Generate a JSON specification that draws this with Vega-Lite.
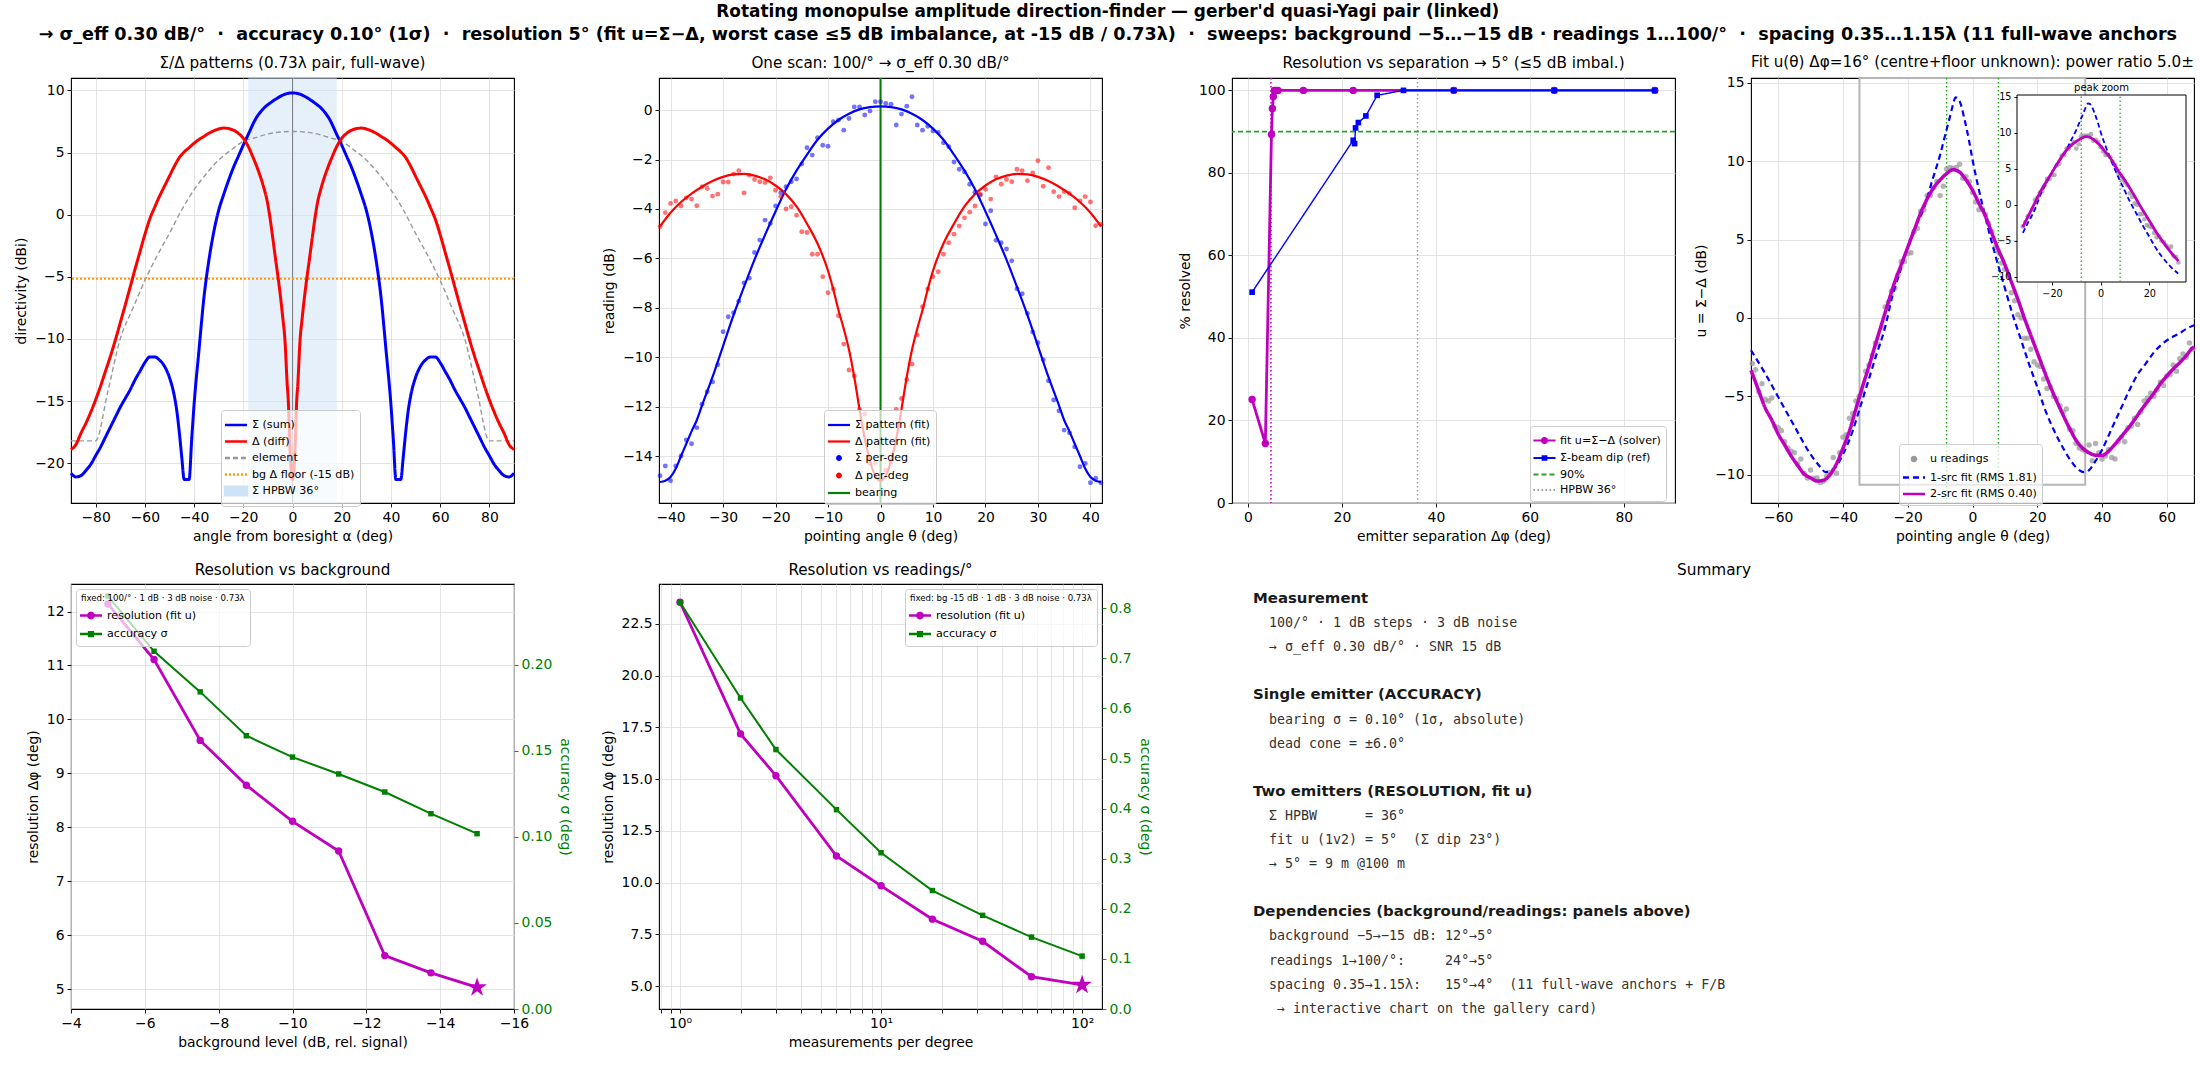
{
  "$schema": "https://vega.github.io/schema/vega-lite/v6.json",
  "background": "white",
  "padding": {"left": 14, "top": 3, "right": 0, "bottom": 0},
  "title": {
    "text": "Rotating monopulse amplitude direction-finder — gerber'd quasi-Yagi pair (linked)",
    "subtitle": "→ σ_eff 0.30 dB/°\u00a0 ·\u00a0 accuracy 0.10° (1σ)\u00a0 ·\u00a0 resolution 5° (fit u=Σ−Δ, worst case ≤5 dB imbalance, at -15 dB / 0.73λ)\u00a0 ·\u00a0 sweeps: background −5…−15 dB · readings 1…100/°\u00a0 ·\u00a0 spacing 0.35…1.15λ (11 full-wave anchors",
    "fontSize": 16.9,
    "fontWeight": "bold",
    "subtitleFontSize": 17.6,
    "subtitleFontWeight": "bold",
    "subtitleColor": "black",
    "subtitlePadding": 5,
    "anchor": "middle",
    "frame": "bounds",
    "offset": 9,
    "limit": 2192
  },
  "datasets": {
    "p1s": [
      {"x": -90, "y": -20.8}, {"x": -88, "y": -21.1}, {"x": -86, "y": -21.0}, {"x": -84, "y": -20.6}, {"x": -82, "y": -20.1},
      {"x": -80, "y": -19.4}, {"x": -78, "y": -18.7}, {"x": -76, "y": -17.9}, {"x": -74, "y": -17.1}, {"x": -72, "y": -16.3},
      {"x": -70, "y": -15.5}, {"x": -68, "y": -14.8}, {"x": -66, "y": -14.1}, {"x": -64, "y": -13.3}, {"x": -62, "y": -12.6},
      {"x": -60, "y": -11.9}, {"x": -58, "y": -11.45}, {"x": -56, "y": -11.45}, {"x": -54, "y": -11.7}, {"x": -52, "y": -12.2},
      {"x": -50, "y": -13.1}, {"x": -48, "y": -14.6}, {"x": -47, "y": -15.8}, {"x": -46, "y": -17.5}, {"x": -45, "y": -19.5},
      {"x": -44, "y": -21.3}, {"x": -42, "y": -21.3}, {"x": -41, "y": -18.2}, {"x": -40, "y": -15.3}, {"x": -38, "y": -10.9},
      {"x": -36, "y": -6.7}, {"x": -34, "y": -3.7}, {"x": -32, "y": -1.4}, {"x": -30, "y": 0.35}, {"x": -28, "y": 1.6},
      {"x": -26, "y": 2.75}, {"x": -24, "y": 3.8}, {"x": -22, "y": 4.7}, {"x": -20, "y": 5.6}, {"x": -18, "y": 6.45},
      {"x": -15, "y": 7.7}, {"x": -12, "y": 8.5}, {"x": -9, "y": 9.0}, {"x": -6, "y": 9.4}, {"x": -3, "y": 9.7},
      {"x": 0, "y": 9.8},
      {"x": 3, "y": 9.7}, {"x": 6, "y": 9.4}, {"x": 9, "y": 9.0}, {"x": 12, "y": 8.5}, {"x": 15, "y": 7.7},
      {"x": 18, "y": 6.45}, {"x": 20, "y": 5.6}, {"x": 22, "y": 4.7}, {"x": 24, "y": 3.8}, {"x": 26, "y": 2.75},
      {"x": 28, "y": 1.6}, {"x": 30, "y": 0.35}, {"x": 32, "y": -1.4}, {"x": 34, "y": -3.7}, {"x": 36, "y": -6.7},
      {"x": 38, "y": -10.9}, {"x": 40, "y": -15.3}, {"x": 41, "y": -18.2}, {"x": 42, "y": -21.3}, {"x": 44, "y": -21.3},
      {"x": 45, "y": -19.5}, {"x": 46, "y": -17.5}, {"x": 47, "y": -15.8}, {"x": 48, "y": -14.6}, {"x": 50, "y": -13.1},
      {"x": 52, "y": -12.2}, {"x": 54, "y": -11.7}, {"x": 56, "y": -11.45}, {"x": 58, "y": -11.45}, {"x": 60, "y": -11.9},
      {"x": 62, "y": -12.6}, {"x": 64, "y": -13.3}, {"x": 66, "y": -14.1}, {"x": 68, "y": -14.8}, {"x": 70, "y": -15.5},
      {"x": 72, "y": -16.3}, {"x": 74, "y": -17.1}, {"x": 76, "y": -17.9}, {"x": 78, "y": -18.7}, {"x": 80, "y": -19.4},
      {"x": 82, "y": -20.1}, {"x": 84, "y": -20.6}, {"x": 86, "y": -21.0}, {"x": 88, "y": -21.1}, {"x": 90, "y": -20.8}
    ],
    "p1d": [
      {"x": -90, "y": -18.9}, {"x": -88, "y": -18.5}, {"x": -86, "y": -17.6}, {"x": -84, "y": -16.8}, {"x": -82, "y": -15.9},
      {"x": -80, "y": -14.9}, {"x": -78, "y": -13.8}, {"x": -76, "y": -12.6}, {"x": -74, "y": -11.4}, {"x": -72, "y": -10.1},
      {"x": -70, "y": -8.7}, {"x": -68, "y": -7.3}, {"x": -66, "y": -5.85}, {"x": -64, "y": -4.4}, {"x": -62, "y": -3.0},
      {"x": -60, "y": -1.6}, {"x": -58, "y": -0.35}, {"x": -56, "y": 0.6}, {"x": -54, "y": 1.5}, {"x": -52, "y": 2.3},
      {"x": -50, "y": 3.1}, {"x": -48, "y": 3.9}, {"x": -46, "y": 4.6}, {"x": -44, "y": 5.05}, {"x": -42, "y": 5.4},
      {"x": -40, "y": 5.75}, {"x": -38, "y": 6.05}, {"x": -36, "y": 6.3}, {"x": -34, "y": 6.55}, {"x": -32, "y": 6.75},
      {"x": -30, "y": 6.9}, {"x": -28, "y": 6.97}, {"x": -26, "y": 6.93}, {"x": -24, "y": 6.8}, {"x": -22, "y": 6.55},
      {"x": -20, "y": 6.15}, {"x": -18, "y": 5.5}, {"x": -16, "y": 4.6}, {"x": -14, "y": 3.6}, {"x": -12, "y": 2.4},
      {"x": -10, "y": 0.8}, {"x": -9, "y": -0.45}, {"x": -8, "y": -1.9}, {"x": -7, "y": -3.4}, {"x": -6, "y": -4.85},
      {"x": -5, "y": -6.4}, {"x": -4, "y": -8.2}, {"x": -3, "y": -10.3}, {"x": -2.2, "y": -13.5}, {"x": -1.7, "y": -15.0},
      {"x": -1, "y": -19.0}, {"x": 0, "y": -21.3},
      {"x": 1, "y": -19.0}, {"x": 1.7, "y": -15.0}, {"x": 2.2, "y": -13.5}, {"x": 3, "y": -10.3}, {"x": 4, "y": -8.2},
      {"x": 5, "y": -6.4}, {"x": 6, "y": -4.85}, {"x": 7, "y": -3.4}, {"x": 8, "y": -1.9}, {"x": 9, "y": -0.45},
      {"x": 10, "y": 0.8}, {"x": 12, "y": 2.4}, {"x": 14, "y": 3.6}, {"x": 16, "y": 4.6}, {"x": 18, "y": 5.5},
      {"x": 20, "y": 6.15}, {"x": 22, "y": 6.55}, {"x": 24, "y": 6.8}, {"x": 26, "y": 6.93}, {"x": 28, "y": 6.97},
      {"x": 30, "y": 6.9}, {"x": 32, "y": 6.75}, {"x": 34, "y": 6.55}, {"x": 36, "y": 6.3}, {"x": 38, "y": 6.05},
      {"x": 40, "y": 5.75}, {"x": 42, "y": 5.4}, {"x": 44, "y": 5.05}, {"x": 46, "y": 4.6}, {"x": 48, "y": 3.9},
      {"x": 50, "y": 3.1}, {"x": 52, "y": 2.3}, {"x": 54, "y": 1.5}, {"x": 56, "y": 0.6}, {"x": 58, "y": -0.35},
      {"x": 60, "y": -1.6}, {"x": 62, "y": -3.0}, {"x": 64, "y": -4.4}, {"x": 66, "y": -5.85}, {"x": 68, "y": -7.3},
      {"x": 70, "y": -8.7}, {"x": 72, "y": -10.1}, {"x": 74, "y": -11.4}, {"x": 76, "y": -12.6}, {"x": 78, "y": -13.8},
      {"x": 80, "y": -14.9}, {"x": 82, "y": -15.9}, {"x": 84, "y": -16.8}, {"x": 86, "y": -17.6}, {"x": 88, "y": -18.5},
      {"x": 90, "y": -18.9}
    ],
    "p1e": [
      {"x": -90, "y": -18.2}, {"x": -85, "y": -18.2}, {"x": -80, "y": -18.2}, {"x": -75, "y": -14.2}, {"x": -70, "y": -10.0},
      {"x": -65, "y": -7.6}, {"x": -60, "y": -5.3}, {"x": -55, "y": -3.3}, {"x": -50, "y": -1.5}, {"x": -45, "y": 0.4},
      {"x": -40, "y": 2.0}, {"x": -35, "y": 3.3}, {"x": -30, "y": 4.4}, {"x": -25, "y": 5.2}, {"x": -20, "y": 5.9},
      {"x": -15, "y": 6.2}, {"x": -10, "y": 6.5}, {"x": -5, "y": 6.65}, {"x": 0, "y": 6.7}, {"x": 5, "y": 6.65},
      {"x": 10, "y": 6.5}, {"x": 15, "y": 6.2}, {"x": 20, "y": 5.9}, {"x": 25, "y": 5.2}, {"x": 30, "y": 4.4},
      {"x": 35, "y": 3.3}, {"x": 40, "y": 2.0}, {"x": 45, "y": 0.4}, {"x": 50, "y": -1.5}, {"x": 55, "y": -3.3},
      {"x": 60, "y": -5.3}, {"x": 65, "y": -7.6}, {"x": 70, "y": -10.0}, {"x": 75, "y": -14.2}, {"x": 80, "y": -18.2},
      {"x": 85, "y": -18.2}, {"x": 90, "y": -18.2}
    ],
    "p2fs": [
      {"x": -42, "y": -15.05}, {"x": -41, "y": -15.0}, {"x": -40, "y": -14.85}, {"x": -39, "y": -14.5}, {"x": -38, "y": -14.0},
      {"x": -37, "y": -13.5}, {"x": -36, "y": -13.0}, {"x": -35, "y": -12.55}, {"x": -34, "y": -11.95}, {"x": -32, "y": -10.8},
      {"x": -30, "y": -9.55}, {"x": -28, "y": -8.3}, {"x": -26, "y": -7.15}, {"x": -24, "y": -6.05}, {"x": -22, "y": -5.05},
      {"x": -20, "y": -4.1}, {"x": -18, "y": -3.2}, {"x": -16, "y": -2.45}, {"x": -14, "y": -1.8}, {"x": -12, "y": -1.2},
      {"x": -10, "y": -0.75}, {"x": -8, "y": -0.4}, {"x": -6, "y": -0.15}, {"x": -4, "y": 0.03}, {"x": -2, "y": 0.12},
      {"x": 0, "y": 0.15}, {"x": 2, "y": 0.12}, {"x": 4, "y": 0.03}, {"x": 6, "y": -0.15}, {"x": 8, "y": -0.4},
      {"x": 10, "y": -0.75}, {"x": 12, "y": -1.2}, {"x": 14, "y": -1.8}, {"x": 16, "y": -2.45}, {"x": 18, "y": -3.2},
      {"x": 20, "y": -4.1}, {"x": 22, "y": -5.05}, {"x": 24, "y": -6.05}, {"x": 26, "y": -7.15}, {"x": 28, "y": -8.3},
      {"x": 30, "y": -9.55}, {"x": 32, "y": -10.8}, {"x": 34, "y": -11.95}, {"x": 35, "y": -12.55}, {"x": 36, "y": -13.0},
      {"x": 37, "y": -13.5}, {"x": 38, "y": -14.0}, {"x": 39, "y": -14.5}, {"x": 40, "y": -14.85}, {"x": 41, "y": -15.0},
      {"x": 42, "y": -15.05}
    ],
    "p2fd": [
      {"x": -42, "y": -4.7}, {"x": -40, "y": -4.15}, {"x": -38, "y": -3.72}, {"x": -36, "y": -3.38}, {"x": -34, "y": -3.1},
      {"x": -32, "y": -2.87}, {"x": -30, "y": -2.7}, {"x": -28, "y": -2.6}, {"x": -26, "y": -2.58}, {"x": -24, "y": -2.65},
      {"x": -22, "y": -2.8}, {"x": -20, "y": -3.05}, {"x": -18, "y": -3.4}, {"x": -16, "y": -3.9}, {"x": -14, "y": -4.6},
      {"x": -12, "y": -5.4}, {"x": -10, "y": -6.5}, {"x": -9, "y": -7.25}, {"x": -8, "y": -8.1}, {"x": -7, "y": -8.85},
      {"x": -6, "y": -9.7}, {"x": -5, "y": -10.8}, {"x": -4, "y": -12.1}, {"x": -3, "y": -13.3}, {"x": -2, "y": -14.2},
      {"x": -1, "y": -14.8}, {"x": 0, "y": -15.0}, {"x": 1, "y": -14.8}, {"x": 2, "y": -14.2}, {"x": 3, "y": -13.3},
      {"x": 4, "y": -12.1}, {"x": 5, "y": -10.8}, {"x": 6, "y": -9.7}, {"x": 7, "y": -8.85}, {"x": 8, "y": -8.1},
      {"x": 9, "y": -7.25}, {"x": 10, "y": -6.5}, {"x": 12, "y": -5.4}, {"x": 14, "y": -4.6}, {"x": 16, "y": -3.9},
      {"x": 18, "y": -3.4}, {"x": 20, "y": -3.05}, {"x": 22, "y": -2.8}, {"x": 24, "y": -2.65}, {"x": 26, "y": -2.58},
      {"x": 28, "y": -2.6}, {"x": 30, "y": -2.7}, {"x": 32, "y": -2.87}, {"x": 34, "y": -3.1}, {"x": 36, "y": -3.38},
      {"x": 38, "y": -3.72}, {"x": 40, "y": -4.15}, {"x": 42, "y": -4.7}
    ],
    "p2s": [
      {"x": -42, "y": -14.8}, {"x": -41, "y": -14.4}, {"x": -40, "y": -15.0}, {"x": -39, "y": -14.4}, {"x": -38, "y": -14.0},
      {"x": -37, "y": -13.35}, {"x": -36, "y": -13.5}, {"x": -35, "y": -12.85}, {"x": -34, "y": -11.9}, {"x": -33, "y": -11.4},
      {"x": -32, "y": -11.0}, {"x": -31, "y": -10.3}, {"x": -30, "y": -8.97}, {"x": -29, "y": -8.36}, {"x": -28, "y": -8.2},
      {"x": -27, "y": -7.73}, {"x": -26, "y": -6.99}, {"x": -25, "y": -6.8}, {"x": -24, "y": -5.76}, {"x": -23, "y": -5.26},
      {"x": -22, "y": -4.45}, {"x": -21, "y": -4.59}, {"x": -20, "y": -3.88}, {"x": -19, "y": -3.34}, {"x": -18, "y": -3.1},
      {"x": -17, "y": -2.9}, {"x": -16, "y": -2.79}, {"x": -15, "y": -2.18}, {"x": -14, "y": -1.52}, {"x": -13, "y": -1.82},
      {"x": -12, "y": -1.12}, {"x": -11, "y": -1.42}, {"x": -10, "y": -1.46}, {"x": -9, "y": -0.47}, {"x": -8, "y": -0.4},
      {"x": -7, "y": -0.81}, {"x": -6, "y": -0.34}, {"x": -5, "y": 0.13}, {"x": -4, "y": 0.13}, {"x": -3, "y": -0.2},
      {"x": -2, "y": -0.04}, {"x": -1, "y": 0.34}, {"x": 0, "y": 0.34}, {"x": 1, "y": 0.27}, {"x": 2, "y": 0.24},
      {"x": 3, "y": -0.6}, {"x": 4, "y": -0.16}, {"x": 5, "y": 0.16}, {"x": 6, "y": 0.54}, {"x": 7, "y": -0.6},
      {"x": 8, "y": -0.81}, {"x": 9, "y": -0.65}, {"x": 10, "y": -0.84}, {"x": 11, "y": -0.9}, {"x": 12, "y": -1.32},
      {"x": 13, "y": -1.48}, {"x": 14, "y": -2.1}, {"x": 15, "y": -2.39}, {"x": 16, "y": -2.5}, {"x": 17, "y": -3.0},
      {"x": 18, "y": -3.32}, {"x": 19, "y": -3.44}, {"x": 20, "y": -4.61}, {"x": 21, "y": -4.07}, {"x": 22, "y": -5.27},
      {"x": 23, "y": -5.37}, {"x": 24, "y": -5.62}, {"x": 25, "y": -6.1}, {"x": 26, "y": -7.23}, {"x": 27, "y": -7.43},
      {"x": 28, "y": -8.23}, {"x": 29, "y": -8.98}, {"x": 30, "y": -9.41}, {"x": 31, "y": -10.1}, {"x": 32, "y": -10.95},
      {"x": 33, "y": -11.73}, {"x": 34, "y": -12.17}, {"x": 35, "y": -12.95}, {"x": 36, "y": -13.06}, {"x": 37, "y": -13.63},
      {"x": 38, "y": -14.43}, {"x": 39, "y": -14.3}, {"x": 40, "y": -15.08}, {"x": 41, "y": -14.9}, {"x": 42, "y": -15.08}
    ],
    "p2d": [
      {"x": -42, "y": -4.72}, {"x": -41, "y": -4.15}, {"x": -40, "y": -3.78}, {"x": -39, "y": -3.68}, {"x": -38, "y": -3.88},
      {"x": -37, "y": -3.55}, {"x": -36, "y": -3.6}, {"x": -35, "y": -3.87}, {"x": -34, "y": -3.1}, {"x": -33, "y": -3.17},
      {"x": -32, "y": -3.48}, {"x": -31, "y": -3.4}, {"x": -30, "y": -2.91}, {"x": -29, "y": -2.91}, {"x": -28, "y": -2.59},
      {"x": -27, "y": -2.45}, {"x": -26, "y": -3.35}, {"x": -25, "y": -2.63}, {"x": -24, "y": -2.81}, {"x": -23, "y": -2.9},
      {"x": -22, "y": -2.93}, {"x": -21, "y": -2.74}, {"x": -20, "y": -3.24}, {"x": -19, "y": -3.5}, {"x": -18, "y": -4.0},
      {"x": -17, "y": -3.91}, {"x": -16, "y": -4.25}, {"x": -15, "y": -4.92}, {"x": -14, "y": -4.95}, {"x": -13, "y": -5.83},
      {"x": -12, "y": -5.83}, {"x": -11, "y": -6.74}, {"x": -10, "y": -7.39}, {"x": -9, "y": -7.24}, {"x": -8, "y": -8.32},
      {"x": -7, "y": -9.47}, {"x": -6, "y": -10.52}, {"x": -5, "y": -10.76}, {"x": -4, "y": -12.11}, {"x": -3, "y": -12.3},
      {"x": -2, "y": -14.3}, {"x": -1, "y": -14.27}, {"x": 0, "y": -14.94}, {"x": 1, "y": -14.57}, {"x": 2, "y": -14.23},
      {"x": 3, "y": -12.11}, {"x": 4, "y": -11.67}, {"x": 5, "y": -10.9}, {"x": 6, "y": -10.28}, {"x": 7, "y": -9.1},
      {"x": 8, "y": -7.96}, {"x": 9, "y": -7.24}, {"x": 10, "y": -6.74}, {"x": 11, "y": -6.54}, {"x": 12, "y": -5.83},
      {"x": 13, "y": -5.37}, {"x": 14, "y": -5.02}, {"x": 15, "y": -4.69}, {"x": 16, "y": -4.36}, {"x": 17, "y": -4.13},
      {"x": 18, "y": -3.88}, {"x": 19, "y": -3.4}, {"x": 20, "y": -3.2}, {"x": 21, "y": -3.6}, {"x": 22, "y": -2.7},
      {"x": 23, "y": -3.0}, {"x": 24, "y": -2.81}, {"x": 25, "y": -2.9}, {"x": 26, "y": -2.39}, {"x": 27, "y": -2.45},
      {"x": 28, "y": -2.86}, {"x": 29, "y": -2.54}, {"x": 30, "y": -2.05}, {"x": 31, "y": -3.08}, {"x": 32, "y": -2.33},
      {"x": 33, "y": -3.3}, {"x": 34, "y": -3.5}, {"x": 35, "y": -3.3}, {"x": 36, "y": -3.37}, {"x": 37, "y": -3.95},
      {"x": 38, "y": -3.68}, {"x": 39, "y": -3.5}, {"x": 40, "y": -3.72}, {"x": 41, "y": -4.68}, {"x": 42, "y": -4.63}
    ],
    "p3m": [
      {"x": 0.88, "y": 25.1}, {"x": 3.7, "y": 14.4}, {"x": 5.0, "y": 89.3}, {"x": 5.2, "y": 95.6}, {"x": 5.4, "y": 98.5},
      {"x": 5.6, "y": 100}, {"x": 6.0, "y": 100}, {"x": 6.4, "y": 100}, {"x": 11.8, "y": 100}, {"x": 22.4, "y": 100},
      {"x": 43.8, "y": 100}, {"x": 65.2, "y": 100}, {"x": 86.6, "y": 100}
    ],
    "p3b": [
      {"x": 0.88, "y": 51.1}, {"x": 22.4, "y": 87.9}, {"x": 22.7, "y": 87.1}, {"x": 22.9, "y": 90.9}, {"x": 23.5, "y": 92.2},
      {"x": 25.1, "y": 93.8}, {"x": 27.5, "y": 98.8}, {"x": 33.1, "y": 100}, {"x": 43.8, "y": 100}, {"x": 65.2, "y": 100},
      {"x": 86.6, "y": 100}
    ],
    "p4m": [
      {"x": -68.4, "y": -3.34}, {"x": -68, "y": -3.55}, {"x": -66, "y": -4.65}, {"x": -64, "y": -5.75}, {"x": -62, "y": -6.5},
      {"x": -60, "y": -7.4}, {"x": -58, "y": -8.1}, {"x": -56, "y": -8.8}, {"x": -54, "y": -9.4}, {"x": -52, "y": -9.95},
      {"x": -50, "y": -10.2}, {"x": -48, "y": -10.4}, {"x": -46, "y": -10.35}, {"x": -44, "y": -10.0}, {"x": -42, "y": -9.3},
      {"x": -40, "y": -8.3}, {"x": -38, "y": -7.2}, {"x": -36, "y": -5.8}, {"x": -34, "y": -4.4}, {"x": -32, "y": -3.1},
      {"x": -30, "y": -1.7}, {"x": -28, "y": -0.35}, {"x": -26, "y": 1.0}, {"x": -24, "y": 2.3}, {"x": -22, "y": 3.4},
      {"x": -20, "y": 4.5}, {"x": -18, "y": 5.6}, {"x": -16, "y": 6.7}, {"x": -14, "y": 7.6}, {"x": -12, "y": 8.3},
      {"x": -10, "y": 8.8}, {"x": -8, "y": 9.2}, {"x": -6, "y": 9.45}, {"x": -4, "y": 9.3}, {"x": -2, "y": 8.8},
      {"x": 0, "y": 8.15}, {"x": 2, "y": 7.3}, {"x": 4, "y": 6.5}, {"x": 6, "y": 5.4}, {"x": 8, "y": 4.35},
      {"x": 10, "y": 3.4}, {"x": 12, "y": 2.3}, {"x": 14, "y": 1.2}, {"x": 16, "y": 0.0}, {"x": 18, "y": -1.1},
      {"x": 20, "y": -2.2}, {"x": 22, "y": -3.3}, {"x": 24, "y": -4.35}, {"x": 26, "y": -5.3}, {"x": 28, "y": -6.2},
      {"x": 30, "y": -7.05}, {"x": 32, "y": -7.8}, {"x": 34, "y": -8.3}, {"x": 36, "y": -8.6}, {"x": 38, "y": -8.75},
      {"x": 40, "y": -8.77}, {"x": 42, "y": -8.5}, {"x": 44, "y": -8.05}, {"x": 46, "y": -7.55}, {"x": 48, "y": -7.05},
      {"x": 50, "y": -6.5}, {"x": 52, "y": -5.9}, {"x": 54, "y": -5.35}, {"x": 56, "y": -4.8}, {"x": 58, "y": -4.2},
      {"x": 60, "y": -3.7}, {"x": 62, "y": -3.25}, {"x": 64, "y": -2.85}, {"x": 66, "y": -2.4}, {"x": 68, "y": -1.9},
      {"x": 68.4, "y": -1.85}
    ],
    "p4b": [
      {"x": -68.4, "y": -2.06}, {"x": -64, "y": -3.55}, {"x": -60, "y": -5.04}, {"x": -55, "y": -6.9}, {"x": -50, "y": -8.7},
      {"x": -47, "y": -9.5}, {"x": -45.4, "y": -9.83}, {"x": -44, "y": -9.75}, {"x": -42.3, "y": -9.51}, {"x": -40, "y": -8.7},
      {"x": -37, "y": -7.2}, {"x": -35, "y": -5.89}, {"x": -32, "y": -3.9}, {"x": -29.9, "y": -2.49}, {"x": -27, "y": -0.6},
      {"x": -24.8, "y": 1.34}, {"x": -22, "y": 3.2}, {"x": -18.6, "y": 5.38}, {"x": -15, "y": 7.0}, {"x": -12.4, "y": 8.79},
      {"x": -10, "y": 10.4}, {"x": -8.3, "y": 11.77}, {"x": -7, "y": 12.8}, {"x": -6.2, "y": 13.47}, {"x": -5.2, "y": 14.06},
      {"x": -4.5, "y": 14.0}, {"x": -3.7, "y": 13.68}, {"x": -2.5, "y": 12.7}, {"x": -1.1, "y": 11.34}, {"x": 0, "y": 10.1},
      {"x": 2, "y": 8.15}, {"x": 4, "y": 6.4}, {"x": 7.2, "y": 3.89}, {"x": 10, "y": 1.9}, {"x": 12.3, "y": 0.28},
      {"x": 15, "y": -1.4}, {"x": 17.4, "y": -2.91}, {"x": 20, "y": -4.4}, {"x": 22.5, "y": -5.89}, {"x": 25, "y": -7.1},
      {"x": 27.8, "y": -8.23}, {"x": 30, "y": -9.0}, {"x": 31.9, "y": -9.51}, {"x": 34.5, "y": -9.83}, {"x": 36, "y": -9.7},
      {"x": 38.1, "y": -9.09}, {"x": 40, "y": -8.4}, {"x": 43.2, "y": -6.96}, {"x": 46, "y": -5.7}, {"x": 48.4, "y": -4.62},
      {"x": 51, "y": -3.6}, {"x": 53.5, "y": -2.91}, {"x": 56, "y": -2.2}, {"x": 58.7, "y": -1.64}, {"x": 61, "y": -1.3},
      {"x": 63.8, "y": -1.0}, {"x": 66, "y": -0.7}, {"x": 68.4, "y": -0.47}
    ],
    "p4g": [
      {"x": -68, "y": -2.9}, {"x": -67, "y": -3.3}, {"x": -66, "y": -4.7}, {"x": -65, "y": -4.2}, {"x": -64, "y": -5.2},
      {"x": -63, "y": -5.3}, {"x": -62, "y": -5.1}, {"x": -61, "y": -6.9}, {"x": -60, "y": -7.0}, {"x": -59, "y": -7.2},
      {"x": -58, "y": -7.9}, {"x": -57, "y": -8.3}, {"x": -56, "y": -8.5}, {"x": -55, "y": -8.6}, {"x": -54, "y": -9.3},
      {"x": -53, "y": -9.0}, {"x": -52, "y": -9.9}, {"x": -51, "y": -10.2}, {"x": -50, "y": -9.7}, {"x": -49, "y": -10.25},
      {"x": -48, "y": -10.2}, {"x": -47, "y": -10.5}, {"x": -46, "y": -10.4}, {"x": -45, "y": -10.1}, {"x": -44, "y": -9.85},
      {"x": -43, "y": -8.9}, {"x": -42, "y": -9.9}, {"x": -41, "y": -8.6}, {"x": -40, "y": -7.6}, {"x": -39, "y": -7.45},
      {"x": -38, "y": -6.4}, {"x": -37, "y": -6.1}, {"x": -36, "y": -5.3}, {"x": -35, "y": -5.0}, {"x": -34, "y": -4.7},
      {"x": -33, "y": -3.4}, {"x": -32, "y": -3.0}, {"x": -31, "y": -2.4}, {"x": -30, "y": -1.6}, {"x": -29, "y": -1.7},
      {"x": -28, "y": -0.6}, {"x": -27, "y": 0.7}, {"x": -26, "y": 1.0}, {"x": -25, "y": 1.7}, {"x": -24, "y": 1.9},
      {"x": -23, "y": 2.7}, {"x": -22, "y": 3.6}, {"x": -21, "y": 3.6}, {"x": -20, "y": 4.1}, {"x": -19, "y": 4.15},
      {"x": -18, "y": 5.5}, {"x": -17, "y": 5.7}, {"x": -16, "y": 6.8}, {"x": -15, "y": 6.9}, {"x": -14, "y": 7.8},
      {"x": -13, "y": 7.8}, {"x": -12, "y": 8.3}, {"x": -11, "y": 8.7}, {"x": -10, "y": 7.8}, {"x": -9, "y": 8.4},
      {"x": -8, "y": 9.5}, {"x": -7, "y": 9.6}, {"x": -6, "y": 9.55}, {"x": -5, "y": 9.6}, {"x": -4, "y": 9.8},
      {"x": -3, "y": 8.9}, {"x": -2, "y": 9.0}, {"x": -1, "y": 8.7}, {"x": 0, "y": 8.0}, {"x": 1, "y": 7.4},
      {"x": 2, "y": 6.9}, {"x": 3, "y": 6.95}, {"x": 4, "y": 6.6}, {"x": 5, "y": 6.0}, {"x": 6, "y": 5.5},
      {"x": 7, "y": 4.5}, {"x": 8, "y": 4.2}, {"x": 9, "y": 3.5}, {"x": 10, "y": 3.1}, {"x": 11, "y": 2.7},
      {"x": 12, "y": 1.6}, {"x": 13, "y": 1.1}, {"x": 14, "y": 0.2}, {"x": 15, "y": 0.0}, {"x": 16, "y": -1.3},
      {"x": 17, "y": -1.3}, {"x": 18, "y": -2.0}, {"x": 19, "y": -2.8}, {"x": 20, "y": -3.0}, {"x": 21, "y": -3.1},
      {"x": 22, "y": -3.9}, {"x": 23, "y": -4.5}, {"x": 24, "y": -4.4}, {"x": 25, "y": -5.0}, {"x": 26, "y": -5.15},
      {"x": 27, "y": -5.6}, {"x": 28, "y": -6.0}, {"x": 29, "y": -5.8}, {"x": 30, "y": -7.1}, {"x": 31, "y": -7.2},
      {"x": 32, "y": -8.0}, {"x": 33, "y": -8.3}, {"x": 34, "y": -8.4}, {"x": 35, "y": -8.5}, {"x": 36, "y": -8.1},
      {"x": 37, "y": -9.1}, {"x": 38, "y": -8.0}, {"x": 39, "y": -8.6}, {"x": 40, "y": -9.0}, {"x": 41, "y": -8.8},
      {"x": 42, "y": -8.4}, {"x": 43, "y": -8.9}, {"x": 44, "y": -9.0}, {"x": 45, "y": -7.9}, {"x": 46, "y": -7.6},
      {"x": 47, "y": -7.9}, {"x": 48, "y": -7.0}, {"x": 49, "y": -6.9}, {"x": 50, "y": -6.4}, {"x": 51, "y": -6.8},
      {"x": 52, "y": -6.0}, {"x": 53, "y": -5.3}, {"x": 54, "y": -5.1}, {"x": 55, "y": -4.8}, {"x": 56, "y": -5.0},
      {"x": 57, "y": -4.6}, {"x": 58, "y": -4.1}, {"x": 59, "y": -4.3}, {"x": 60, "y": -3.7}, {"x": 61, "y": -3.6},
      {"x": 62, "y": -3.0}, {"x": 63, "y": -3.4}, {"x": 64, "y": -2.6}, {"x": 65, "y": -2.3}, {"x": 66, "y": -2.5},
      {"x": 67, "y": -1.6}, {"x": 68, "y": -2.0}
    ],
    "p5": [
      {"bg": -5, "res": 12.14, "acc": 0.240}, {"bg": -6.25, "res": 11.11, "acc": 0.2079}, {"bg": -7.5, "res": 9.61, "acc": 0.1843},
      {"bg": -8.75, "res": 8.78, "acc": 0.1588}, {"bg": -10, "res": 8.11, "acc": 0.1464}, {"bg": -11.25, "res": 7.56, "acc": 0.1366},
      {"bg": -12.5, "res": 5.62, "acc": 0.1261}, {"bg": -13.75, "res": 5.30, "acc": 0.1135}, {"bg": -15, "res": 5.03, "acc": 0.1019}
    ],
    "p6": [
      {"n": 1, "res": 23.54, "acc": 0.812}, {"n": 2, "res": 17.18, "acc": 0.621}, {"n": 3, "res": 15.16, "acc": 0.518},
      {"n": 6, "res": 11.28, "acc": 0.398}, {"n": 10, "res": 9.84, "acc": 0.312}, {"n": 18, "res": 8.23, "acc": 0.2365},
      {"n": 32, "res": 7.16, "acc": 0.187}, {"n": 56, "res": 5.45, "acc": 0.1435}, {"n": 100, "res": 5.05, "acc": 0.1056}
    ],
    "summary": [
      {"line": 0, "indent": 0, "kind": "h", "txt": "Measurement"},
      {"line": 1, "indent": 2, "kind": "b", "txt": "100/° · 1 dB steps · 3 dB noise"},
      {"line": 2, "indent": 2, "kind": "b", "txt": "→ σ_eff 0.30 dB/° · SNR 15 dB"},
      {"line": 4, "indent": 0, "kind": "h", "txt": "Single emitter (ACCURACY)"},
      {"line": 5, "indent": 2, "kind": "b", "txt": "bearing σ = 0.10° (1σ, absolute)"},
      {"line": 6, "indent": 2, "kind": "b", "txt": "dead cone = ±6.0°"},
      {"line": 8, "indent": 0, "kind": "h", "txt": "Two emitters (RESOLUTION, fit u)"},
      {"line": 9, "indent": 2, "kind": "b", "txt": "Σ HPBW\u00a0\u00a0\u00a0\u00a0\u00a0\u00a0= 36°"},
      {"line": 10, "indent": 2, "kind": "b", "txt": "fit u (1v2) = 5°\u00a0\u00a0(Σ dip 23°)"},
      {"line": 11, "indent": 2, "kind": "b", "txt": "→ 5° = 9 m @100 m"},
      {"line": 13, "indent": 0, "kind": "h", "txt": "Dependencies (background/readings: panels above)"},
      {"line": 14, "indent": 2, "kind": "b", "txt": "background −5→−15 dB: 12°→5°"},
      {"line": 15, "indent": 2, "kind": "b", "txt": "readings 1→100/°:\u00a0\u00a0\u00a0\u00a0\u00a024°→5°"},
      {"line": 16, "indent": 2, "kind": "b", "txt": "spacing 0.35→1.15λ:\u00a0\u00a0\u00a015°→4°\u00a0\u00a0(11 full-wave anchors + F/B"},
      {"line": 17, "indent": 3, "kind": "b", "txt": "→ interactive chart on the gallery card)"}
    ]
  },
  "columns": 7,
  "align": "none",
  "bounds": "flush",
  "spacing": {"row": 81, "column": 0},
  "resolve": {
    "scale": {"color": "independent", "shape": "independent", "strokeDash": "independent"},
    "legend": {"color": "independent", "shape": "independent", "strokeDash": "independent"}
  },
  "concat": [
    {
      "width": 443, "height": 425,
      "title": "Σ/Δ patterns (0.73λ pair, full-wave)",
      "layer": [
        {
          "data": {"values": [{}]},
          "mark": {"type": "rect", "opacity": 0.55},
          "encoding": {
            "x": {"datum": -18, "type": "quantitative", "scale": {"domain": [-90, 90], "nice": false, "zero": false}, "axis": {"values": [-80, -60, -40, -20, 0, 20, 40, 60, 80], "title": "angle from boresight α (deg)"}},
            "x2": {"datum": 18},
            "color": {"datum": "Σ HPBW 36°", "type": "nominal",
              "scale": {"domain": ["Σ (sum)", "Δ (diff)", "element", "bg Δ floor (-15 dB)", "Σ HPBW 36°"], "range": ["#0000ff", "#ff0000", "#999999", "#ff9900", "#cfe3f8"]},
              "legend": {"title": null, "orient": "none", "legendX": 150, "legendY": 332, "symbolSize": 289, "symbolStrokeWidth": 2.5}}
          }
        },
        {
          "data": {"values": [{}]},
          "mark": {"type": "rule", "color": "#666666", "strokeWidth": 0.8},
          "encoding": {"x": {"datum": 0, "type": "quantitative"}}
        },
        {
          "data": {"name": "p1e"},
          "mark": {"type": "line", "strokeWidth": 1.4, "interpolate": "monotone"},
          "encoding": {
            "x": {"field": "x", "type": "quantitative"},
            "y": {"field": "y", "type": "quantitative", "scale": {"domain": [-23.2, 11], "nice": false, "zero": false}, "axis": {"values": [-20, -15, -10, -5, 0, 5, 10], "title": "directivity (dBi)"}},
            "color": {"datum": "element", "type": "nominal"},
            "strokeDash": {"datum": "element", "type": "nominal",
              "scale": {"domain": ["Σ (sum)", "Δ (diff)", "element", "bg Δ floor (-15 dB)", "Σ HPBW 36°"], "range": [[1, 0], [1, 0], [5, 3], [2, 2], [1, 0]]}}
          }
        },
        {
          "data": {"values": [{}]},
          "mark": {"type": "rule", "strokeWidth": 2},
          "encoding": {
            "y": {"datum": -5.15, "type": "quantitative"},
            "color": {"datum": "bg Δ floor (-15 dB)", "type": "nominal"},
            "strokeDash": {"datum": "bg Δ floor (-15 dB)", "type": "nominal"}
          }
        },
        {
          "data": {"name": "p1s"},
          "mark": {"type": "line", "strokeWidth": 3, "interpolate": "monotone"},
          "encoding": {
            "x": {"field": "x", "type": "quantitative"},
            "y": {"field": "y", "type": "quantitative"},
            "color": {"datum": "Σ (sum)", "type": "nominal"},
            "strokeDash": {"datum": "Σ (sum)", "type": "nominal"}
          }
        },
        {
          "data": {"name": "p1d"},
          "mark": {"type": "line", "strokeWidth": 3, "interpolate": "monotone"},
          "encoding": {
            "x": {"field": "x", "type": "quantitative"},
            "y": {"field": "y", "type": "quantitative"},
            "color": {"datum": "Δ (diff)", "type": "nominal"},
            "strokeDash": {"datum": "Δ (diff)", "type": "nominal"}
          }
        },
        {
          "data": {"values": []},
          "mark": {"type": "point", "filled": true},
          "encoding": {
            "color": {"datum": "Σ (sum)", "type": "nominal"},
            "shape": {"datum": "Σ (sum)", "type": "nominal",
              "scale": {"domain": ["Σ (sum)", "Δ (diff)", "element", "bg Δ floor (-15 dB)", "Σ HPBW 36°"],
                "range": ["M-1.3,0L1.3,0", "M-1.3,0L1.3,0", "M-1.3,0L1.3,0", "M-1.3,0L1.3,0", "M-1.3,-0.5L1.3,-0.5L1.3,0.5L-1.3,0.5Z"]}}
          }
        }
      ]
    },
    {"width": 145, "height": 10, "data": {"values": []}, "mark": "point", "view": {"stroke": null}},
    {
      "width": 443, "height": 425,
      "title": "One scan: 100/° → σ_eff 0.30 dB/°",
      "layer": [
        {
          "data": {"values": [{}]},
          "mark": {"type": "rule", "strokeWidth": 2},
          "encoding": {
            "x": {"datum": 0, "type": "quantitative", "scale": {"domain": [-42.2, 42.2], "nice": false, "zero": false}, "axis": {"values": [-40, -30, -20, -10, 0, 10, 20, 30, 40], "title": "pointing angle θ (deg)"}},
            "color": {"datum": "bearing", "type": "nominal",
              "scale": {"domain": ["Σ pattern (fit)", "Δ pattern (fit)", "Σ per-deg", "Δ per-deg", "bearing"], "range": ["#0000ff", "#ff0000", "#0000ff", "#ff0000", "#008000"]},
              "legend": {"title": null, "orient": "none", "legendX": 165, "legendY": 332, "symbolSize": 289, "symbolStrokeWidth": 2.2}}
          }
        },
        {
          "data": {"name": "p2fs"},
          "mark": {"type": "line", "strokeWidth": 2.2, "interpolate": "monotone"},
          "encoding": {
            "x": {"field": "x", "type": "quantitative"},
            "y": {"field": "y", "type": "quantitative", "scale": {"domain": [-15.9, 1.3], "nice": false, "zero": false}, "axis": {"values": [-14, -12, -10, -8, -6, -4, -2, 0], "title": "reading (dB)"}},
            "color": {"datum": "Σ pattern (fit)", "type": "nominal"}
          }
        },
        {
          "data": {"name": "p2fd"},
          "mark": {"type": "line", "strokeWidth": 2.2, "interpolate": "monotone"},
          "encoding": {
            "x": {"field": "x", "type": "quantitative"},
            "y": {"field": "y", "type": "quantitative"},
            "color": {"datum": "Δ pattern (fit)", "type": "nominal"}
          }
        },
        {
          "data": {"name": "p2s"},
          "mark": {"type": "point", "filled": true, "size": 24, "opacity": 0.55},
          "encoding": {
            "x": {"field": "x", "type": "quantitative"},
            "y": {"field": "y", "type": "quantitative"},
            "color": {"datum": "Σ per-deg", "type": "nominal"}
          }
        },
        {
          "data": {"name": "p2d"},
          "mark": {"type": "point", "filled": true, "size": 24, "opacity": 0.55},
          "encoding": {
            "x": {"field": "x", "type": "quantitative"},
            "y": {"field": "y", "type": "quantitative"},
            "color": {"datum": "Δ per-deg", "type": "nominal"}
          }
        },
        {
          "data": {"values": []},
          "mark": {"type": "point", "filled": true},
          "encoding": {
            "color": {"datum": "Σ per-deg", "type": "nominal"},
            "shape": {"datum": "Σ per-deg", "type": "nominal",
              "scale": {"domain": ["Σ pattern (fit)", "Δ pattern (fit)", "Σ per-deg", "Δ per-deg", "bearing"],
                "range": ["M-1.3,0L1.3,0", "M-1.3,0L1.3,0", "M0.22,0A0.22,0.22,0,1,1,-0.22,0A0.22,0.22,0,1,1,0.22,0Z", "M0.22,0A0.22,0.22,0,1,1,-0.22,0A0.22,0.22,0,1,1,0.22,0Z", "M-1.3,0L1.3,0"]}}
          }
        }
      ]
    },
    {"width": 130, "height": 10, "data": {"values": []}, "mark": "point", "view": {"stroke": null}},
    {
      "width": 443, "height": 425,
      "title": "Resolution vs separation → 5° (≤5 dB imbal.)",
      "layer": [
        {
          "data": {"values": [{}]},
          "mark": {"type": "rule", "strokeWidth": 1.4},
          "encoding": {
            "x": {"datum": 36.1, "type": "quantitative", "scale": {"domain": [-3.4, 90.9], "nice": false, "zero": false}, "axis": {"values": [0, 20, 40, 60, 80], "title": "emitter separation Δφ (deg)"}},
            "color": {"datum": "HPBW 36°", "type": "nominal",
              "scale": {"domain": ["fit u=Σ−Δ (solver)", "Σ-beam dip (ref)", "90%", "HPBW 36°"], "range": ["#bf00bf", "#0000ff", "#2ca02c", "#999999"]},
              "legend": {"title": null, "orient": "none", "legendX": 298, "legendY": 348, "symbolSize": 289, "symbolStrokeWidth": 2}},
            "strokeDash": {"datum": "HPBW 36°", "type": "nominal",
              "scale": {"domain": ["fit u=Σ−Δ (solver)", "Σ-beam dip (ref)", "90%", "HPBW 36°"], "range": [[1, 0], [1, 0], [5, 3], [1.5, 2.5]]}}
          }
        },
        {
          "data": {"values": [{}]},
          "mark": {"type": "rule", "strokeWidth": 1.6},
          "encoding": {
            "y": {"datum": 90, "type": "quantitative", "scale": {"domain": [0, 103], "nice": false, "zero": false}, "axis": {"values": [0, 20, 40, 60, 80, 100], "title": "% resolved"}},
            "color": {"datum": "90%", "type": "nominal"},
            "strokeDash": {"datum": "90%", "type": "nominal"}
          }
        },
        {
          "data": {"values": [{}]},
          "mark": {"type": "rule", "color": "#bf00bf", "strokeWidth": 1.6, "strokeDash": [1.5, 2.5]},
          "encoding": {"x": {"datum": 4.9, "type": "quantitative"}}
        },
        {
          "data": {"name": "p3m"},
          "mark": {"type": "line", "strokeWidth": 2.8},
          "encoding": {
            "x": {"field": "x", "type": "quantitative"},
            "y": {"field": "y", "type": "quantitative"},
            "color": {"datum": "fit u=Σ−Δ (solver)", "type": "nominal"},
            "strokeDash": {"datum": "fit u=Σ−Δ (solver)", "type": "nominal"}
          }
        },
        {
          "data": {"name": "p3m"},
          "mark": {"type": "point", "filled": true, "shape": "circle", "size": 55, "opacity": 1},
          "encoding": {
            "x": {"field": "x", "type": "quantitative"},
            "y": {"field": "y", "type": "quantitative"},
            "color": {"datum": "fit u=Σ−Δ (solver)", "type": "nominal"}
          }
        },
        {
          "data": {"name": "p3b"},
          "mark": {"type": "line", "strokeWidth": 1.4},
          "encoding": {
            "x": {"field": "x", "type": "quantitative"},
            "y": {"field": "y", "type": "quantitative"},
            "color": {"datum": "Σ-beam dip (ref)", "type": "nominal"},
            "strokeDash": {"datum": "Σ-beam dip (ref)", "type": "nominal"}
          }
        },
        {
          "data": {"name": "p3b"},
          "mark": {"type": "point", "filled": true, "shape": "square", "size": 32, "opacity": 1},
          "encoding": {
            "x": {"field": "x", "type": "quantitative"},
            "y": {"field": "y", "type": "quantitative"},
            "color": {"datum": "Σ-beam dip (ref)", "type": "nominal"}
          }
        },
        {
          "data": {"values": []},
          "mark": {"type": "point", "filled": true},
          "encoding": {
            "color": {"datum": "90%", "type": "nominal"},
            "shape": {"datum": "90%", "type": "nominal",
              "scale": {"domain": ["fit u=Σ−Δ (solver)", "Σ-beam dip (ref)", "90%", "HPBW 36°"],
                "range": ["M-1.3,0L1.3,0M0.3,0A0.3,0.3,0,1,1,-0.3,0A0.3,0.3,0,1,1,0.3,0Z", "M-1.3,0L1.3,0M-0.22,-0.22L0.22,-0.22L0.22,0.22L-0.22,0.22Z", "M-1.3,0L1.3,0", "M-1.3,0L1.3,0"]}}
          }
        }
      ]
    },
    {"width": 76, "height": 10, "data": {"values": []}, "mark": "point", "view": {"stroke": null}},
    {
      "width": 443, "height": 425,
      "title": {"text": "Fit u(θ) Δφ=16° (centre+floor unknown): power ratio 5.0±", "anchor": "end"},
      "layer": [
        {
          "layer": [
            {
              "data": {"values": [{}]},
              "mark": {"type": "rect", "filled": false, "color": "#b5b5b5", "strokeWidth": 2},
              "encoding": {
                "x": {"datum": -34.9, "type": "quantitative", "scale": {"domain": [-68.4, 68.4], "nice": false, "zero": false}, "axis": {"values": [-60, -40, -20, 0, 20, 40, 60], "title": "pointing angle θ (deg)"}},
                "x2": {"datum": 34.8},
                "y": {"datum": -10.64, "type": "quantitative", "scale": {"domain": [-11.8, 15.3], "nice": false, "zero": false}, "axis": {"values": [-10, -5, 0, 5, 10, 15], "title": "u = Σ−Δ (dB)"}},
                "y2": {"datum": 15.3}
              }
            },
            {
              "data": {"values": [{"x": -8}, {"x": 8}]},
              "mark": {"type": "rule", "color": "#22a022", "strokeWidth": 1.4, "strokeDash": [1.5, 2.5]},
              "encoding": {"x": {"field": "x", "type": "quantitative"}}
            },
            {
              "data": {"name": "p4g"},
              "mark": {"type": "point", "filled": true, "size": 30, "opacity": 0.75},
              "encoding": {
                "x": {"field": "x", "type": "quantitative"},
                "y": {"field": "y", "type": "quantitative"},
                "color": {"datum": "u readings", "type": "nominal",
                  "scale": {"domain": ["u readings", "1-src fit (RMS 1.81)", "2-src fit (RMS 0.40)"], "range": ["#999999", "#0000ff", "#bf00bf"]},
                  "legend": {"title": null, "orient": "none", "legendX": 148, "legendY": 366, "symbolSize": 289, "symbolStrokeWidth": 2.5}}
              }
            },
            {
              "data": {"name": "p4b"},
              "mark": {"type": "line", "strokeWidth": 2.2, "interpolate": "monotone"},
              "encoding": {
                "x": {"field": "x", "type": "quantitative"},
                "y": {"field": "y", "type": "quantitative"},
                "color": {"datum": "1-src fit (RMS 1.81)", "type": "nominal"},
                "strokeDash": {"datum": "1-src fit (RMS 1.81)", "type": "nominal",
                  "scale": {"domain": ["u readings", "1-src fit (RMS 1.81)", "2-src fit (RMS 0.40)"], "range": [[1, 0], [6, 4], [1, 0]]}}
              }
            },
            {
              "data": {"name": "p4m"},
              "mark": {"type": "line", "strokeWidth": 3.5, "interpolate": "monotone"},
              "encoding": {
                "x": {"field": "x", "type": "quantitative"},
                "y": {"field": "y", "type": "quantitative"},
                "color": {"datum": "2-src fit (RMS 0.40)", "type": "nominal"},
                "strokeDash": {"datum": "2-src fit (RMS 0.40)", "type": "nominal"}
              }
            },
            {
              "data": {"values": []},
              "mark": {"type": "point", "filled": true},
              "encoding": {
                "color": {"datum": "u readings", "type": "nominal"},
                "shape": {"datum": "u readings", "type": "nominal",
                  "scale": {"domain": ["u readings", "1-src fit (RMS 1.81)", "2-src fit (RMS 0.40)"],
                    "range": ["M0.24,0A0.24,0.24,0,1,1,-0.24,0A0.24,0.24,0,1,1,0.24,0Z", "M-1.3,0L1.3,0", "M-1.3,0L1.3,0"]}}
              }
            }
          ]
        },
        {
          "layer": [
            {
              "data": {"values": [{}]},
              "mark": {"type": "rect", "fill": "white", "stroke": "black", "strokeWidth": 1},
              "encoding": {
                "x": {"datum": -34.4, "type": "quantitative", "scale": {"domain": [-34.4, 35.1], "range": [266, 435], "nice": false, "zero": false},
                  "axis": {"orient": "bottom", "offset": -221, "values": [-20, 0, 20], "title": null, "labelFontSize": 9.7, "tickSize": 3, "zindex": 1}},
                "x2": {"datum": 35.1},
                "y": {"datum": -10.7, "type": "quantitative", "scale": {"domain": [-10.7, 15.23], "range": [204, 17], "nice": false, "zero": false},
                  "axis": {"orient": "left", "offset": -266, "values": [-10, -5, 0, 5, 10, 15], "title": null, "labelFontSize": 9.7, "tickSize": 3, "zindex": 1}},
                "y2": {"datum": 15.23}
              }
            },
            {
              "data": {"values": [{"x": -8}, {"x": 8}]},
              "mark": {"type": "rule", "color": "#22a022", "strokeWidth": 1.2, "strokeDash": [1.5, 2.5]},
              "encoding": {
                "x": {"field": "x", "type": "quantitative"},
                "y": {"datum": -10.7, "type": "quantitative"},
                "y2": {"datum": 15.23}
              }
            },
            {
              "data": {"name": "p4g"},
              "transform": [{"filter": "datum.x >= -32 && datum.x <= 32"}],
              "mark": {"type": "point", "filled": true, "size": 22, "opacity": 0.75, "color": "#999999"},
              "encoding": {"x": {"field": "x", "type": "quantitative"}, "y": {"field": "y", "type": "quantitative"}}
            },
            {
              "data": {"name": "p4b"},
              "transform": [{"filter": "datum.x >= -32 && datum.x <= 32"}],
              "mark": {"type": "line", "color": "#0000ff", "strokeWidth": 1.8, "strokeDash": [5, 3], "interpolate": "monotone"},
              "encoding": {"x": {"field": "x", "type": "quantitative"}, "y": {"field": "y", "type": "quantitative"}}
            },
            {
              "data": {"name": "p4m"},
              "transform": [{"filter": "datum.x >= -32 && datum.x <= 32"}],
              "mark": {"type": "line", "color": "#bf00bf", "strokeWidth": 2.8, "interpolate": "monotone"},
              "encoding": {"x": {"field": "x", "type": "quantitative"}, "y": {"field": "y", "type": "quantitative"}}
            },
            {
              "data": {"values": [{}]},
              "mark": {"type": "text", "text": "peak zoom", "fontSize": 10, "baseline": "bottom", "dy": -2},
              "encoding": {"x": {"datum": 0.35, "type": "quantitative"}, "y": {"datum": 15.23, "type": "quantitative"}}
            }
          ]
        }
      ],
      "resolve": {"scale": {"x": "independent", "y": "independent"}, "axis": {"x": "independent", "y": "independent"}}
    },
    {
      "width": 443, "height": 425,
      "title": "Resolution vs background",
      "data": {"name": "p5"},
      "layer": [
        {
          "layer": [
            {
              "mark": {"type": "line", "strokeWidth": 2.8},
              "encoding": {
                "x": {"field": "bg", "type": "quantitative", "scale": {"domain": [-16, -4], "reverse": true, "nice": false, "zero": false}, "axis": {"values": [-4, -6, -8, -10, -12, -14, -16], "title": "background level (dB, rel. signal)"}},
                "y": {"field": "res", "type": "quantitative", "scale": {"domain": [4.63, 12.51], "nice": false, "zero": false}, "axis": {"values": [5, 6, 7, 8, 9, 10, 11, 12], "title": "resolution Δφ (deg)"}},
                "color": {"datum": "resolution (fit u)", "type": "nominal",
                  "scale": {"domain": ["resolution (fit u)", "accuracy σ"], "range": ["#bf00bf", "#008000"]},
                  "legend": {"title": "fixed: 100/° · 1 dB · 3 dB noise · 0.73λ", "titleFontSize": 8.6, "titleFontWeight": "normal", "orient": "top-left", "offset": 5, "symbolSize": 289, "symbolStrokeWidth": 2.5, "titlePadding": 3}}
              }
            },
            {
              "transform": [{"filter": "datum.bg > -14.9"}],
              "mark": {"type": "point", "filled": true, "shape": "circle", "size": 55, "opacity": 1},
              "encoding": {
                "x": {"field": "bg", "type": "quantitative"},
                "y": {"field": "res", "type": "quantitative"},
                "color": {"datum": "resolution (fit u)", "type": "nominal"}
              }
            },
            {
              "transform": [{"filter": "datum.bg < -14.9"}],
              "mark": {"type": "point", "filled": true, "size": 420, "opacity": 1, "color": "#bf00bf",
                "shape": "M0,-1L0.2245,-0.309L0.9511,-0.309L0.3633,0.118L0.5878,0.809L0,0.382L-0.5878,0.809L-0.3633,0.118L-0.9511,-0.309L-0.2245,-0.309Z"},
              "encoding": {
                "x": {"field": "bg", "type": "quantitative"},
                "y": {"field": "res", "type": "quantitative"}
              }
            },
            {
              "data": {"values": []},
              "mark": {"type": "point", "filled": true},
              "encoding": {
                "color": {"datum": "resolution (fit u)", "type": "nominal"},
                "shape": {"datum": "resolution (fit u)", "type": "nominal",
                  "scale": {"domain": ["resolution (fit u)", "accuracy σ"],
                    "range": ["M-1.3,0L1.3,0M0.3,0A0.3,0.3,0,1,1,-0.3,0A0.3,0.3,0,1,1,0.3,0Z", "M-1.3,0L1.3,0M-0.22,-0.22L0.22,-0.22L0.22,0.22L-0.22,0.22Z"]}}
              }
            }
          ]
        },
        {
          "layer": [
            {
              "mark": {"type": "line", "strokeWidth": 2},
              "encoding": {
                "x": {"field": "bg", "type": "quantitative"},
                "y": {"field": "acc", "type": "quantitative", "scale": {"domain": [0, 0.247], "nice": false, "zero": false},
                  "axis": {"orient": "right", "values": [0, 0.05, 0.1, 0.15, 0.2], "format": ".2f", "title": "accuracy σ (deg)", "grid": false, "labelColor": "#008000", "titleColor": "#008000", "tickColor": "#008000"}},
                "color": {"datum": "accuracy σ", "type": "nominal"}
              }
            },
            {
              "mark": {"type": "point", "filled": true, "shape": "square", "size": 30, "opacity": 1},
              "encoding": {
                "x": {"field": "bg", "type": "quantitative"},
                "y": {"field": "acc", "type": "quantitative"},
                "color": {"datum": "accuracy σ", "type": "nominal"}
              }
            }
          ]
        }
      ],
      "resolve": {"scale": {"y": "independent"}}
    },
    {"width": 145, "height": 10, "data": {"values": []}, "mark": "point", "view": {"stroke": null}},
    {
      "width": 443, "height": 425,
      "title": "Resolution vs readings/°",
      "data": {"name": "p6"},
      "layer": [
        {
          "layer": [
            {
              "mark": {"type": "line", "strokeWidth": 2.8},
              "encoding": {
                "x": {"field": "n", "type": "quantitative", "scale": {"type": "log", "domain": [0.786, 125.6], "nice": false},
                  "axis": {"values": [0.8, 0.9, 1, 2, 3, 4, 5, 6, 7, 8, 9, 10, 20, 30, 40, 50, 60, 70, 80, 90, 100],
                    "labelExpr": "datum.value == 1 ? '10⁰' : datum.value == 10 ? '10¹' : datum.value == 100 ? '10²' : ''", "title": "measurements per degree"}},
                "y": {"field": "res", "type": "quantitative", "scale": {"domain": [3.89, 24.42], "nice": false, "zero": false}, "axis": {"values": [5, 7.5, 10, 12.5, 15, 17.5, 20, 22.5], "format": ".1f", "title": "resolution Δφ (deg)"}},
                "color": {"datum": "resolution (fit u)", "type": "nominal",
                  "scale": {"domain": ["resolution (fit u)", "accuracy σ"], "range": ["#bf00bf", "#008000"]},
                  "legend": {"title": "fixed: bg -15 dB · 1 dB · 3 dB noise · 0.73λ", "titleFontSize": 8.6, "titleFontWeight": "normal", "orient": "top-right", "offset": 5, "symbolSize": 289, "symbolStrokeWidth": 2.5, "titlePadding": 3}}
              }
            },
            {
              "transform": [{"filter": "datum.n < 99"}],
              "mark": {"type": "point", "filled": true, "shape": "circle", "size": 55, "opacity": 1},
              "encoding": {
                "x": {"field": "n", "type": "quantitative"},
                "y": {"field": "res", "type": "quantitative"},
                "color": {"datum": "resolution (fit u)", "type": "nominal"}
              }
            },
            {
              "transform": [{"filter": "datum.n > 99"}],
              "mark": {"type": "point", "filled": true, "size": 420, "opacity": 1, "color": "#bf00bf",
                "shape": "M0,-1L0.2245,-0.309L0.9511,-0.309L0.3633,0.118L0.5878,0.809L0,0.382L-0.5878,0.809L-0.3633,0.118L-0.9511,-0.309L-0.2245,-0.309Z"},
              "encoding": {
                "x": {"field": "n", "type": "quantitative"},
                "y": {"field": "res", "type": "quantitative"}
              }
            },
            {
              "data": {"values": []},
              "mark": {"type": "point", "filled": true},
              "encoding": {
                "color": {"datum": "resolution (fit u)", "type": "nominal"},
                "shape": {"datum": "resolution (fit u)", "type": "nominal",
                  "scale": {"domain": ["resolution (fit u)", "accuracy σ"],
                    "range": ["M-1.3,0L1.3,0M0.3,0A0.3,0.3,0,1,1,-0.3,0A0.3,0.3,0,1,1,0.3,0Z", "M-1.3,0L1.3,0M-0.22,-0.22L0.22,-0.22L0.22,0.22L-0.22,0.22Z"]}}
              }
            }
          ]
        },
        {
          "layer": [
            {
              "mark": {"type": "line", "strokeWidth": 2},
              "encoding": {
                "x": {"field": "n", "type": "quantitative"},
                "y": {"field": "acc", "type": "quantitative", "scale": {"domain": [0, 0.8485], "nice": false, "zero": false},
                  "axis": {"orient": "right", "values": [0, 0.1, 0.2, 0.3, 0.4, 0.5, 0.6, 0.7, 0.8], "format": ".1f", "title": "accuracy σ (deg)", "grid": false, "labelColor": "#008000", "titleColor": "#008000", "tickColor": "#008000"}},
                "color": {"datum": "accuracy σ", "type": "nominal"}
              }
            },
            {
              "mark": {"type": "point", "filled": true, "shape": "square", "size": 30, "opacity": 1},
              "encoding": {
                "x": {"field": "n", "type": "quantitative"},
                "y": {"field": "acc", "type": "quantitative"},
                "color": {"datum": "accuracy σ", "type": "nominal"}
              }
            }
          ]
        }
      ],
      "resolve": {"scale": {"y": "independent"}}
    },
    {"width": 130, "height": 10, "data": {"values": []}, "mark": "point", "view": {"stroke": null}},
    {
      "width": 443, "height": 425,
      "title": {"text": "Summary", "fontSize": 15.3, "dx": 260.5},
      "view": {"stroke": null},
      "data": {"name": "summary"},
      "layer": [
        {
          "transform": [{"filter": "datum.kind === 'h'"}],
          "mark": {"type": "text", "align": "left", "baseline": "middle", "font": "DejaVu Sans", "fontWeight": "bold", "fontSize": 14.9, "color": "#1a1a1a"},
          "encoding": {
            "x": {"field": "indent", "type": "quantitative", "scale": {"domain": [-2.625, 52.75], "nice": false, "zero": false}, "axis": null},
            "y": {"field": "line", "type": "quantitative", "scale": {"domain": [-0.622, 17.01], "reverse": true, "nice": false, "zero": false}, "axis": null},
            "text": {"field": "txt"}
          }
        },
        {
          "transform": [{"filter": "datum.kind === 'b'"}],
          "mark": {"type": "text", "align": "left", "baseline": "middle", "font": "DejaVu Sans Mono", "fontSize": 13.3, "color": "#333333"},
          "encoding": {
            "x": {"field": "indent", "type": "quantitative"},
            "y": {"field": "line", "type": "quantitative"},
            "text": {"field": "txt"}
          }
        }
      ]
    }
  ],
  "config": {
    "font": "DejaVu Sans",
    "view": {"stroke": "black", "strokeWidth": 1.1},
    "axis": {
      "domain": false, "grid": true, "gridColor": "#dddddd", "gridWidth": 0.8,
      "tickColor": "black", "tickSize": 4, "tickWidth": 0.9,
      "labelFontSize": 13.9, "titleFontSize": 13.9, "titleFontWeight": "normal",
      "labelColor": "black", "titleColor": "black", "labelPadding": 3, "titlePadding": 6,
      "labelFlush": false, "labelOverlap": false
    },
    "title": {"fontSize": 15.2, "fontWeight": "normal", "offset": 6, "color": "black", "frame": "group"},
    "legend": {
      "labelFontSize": 11.1, "labelColor": "black", "titleColor": "black",
      "fillColor": "rgba(255,255,255,0.7)", "strokeColor": "#cccccc", "padding": 5, "cornerRadius": 3,
      "rowPadding": 0.5, "symbolOpacity": 1, "labelLimit": 400, "titleLimit": 400, "labelOffset": 6
    }
  }
}
